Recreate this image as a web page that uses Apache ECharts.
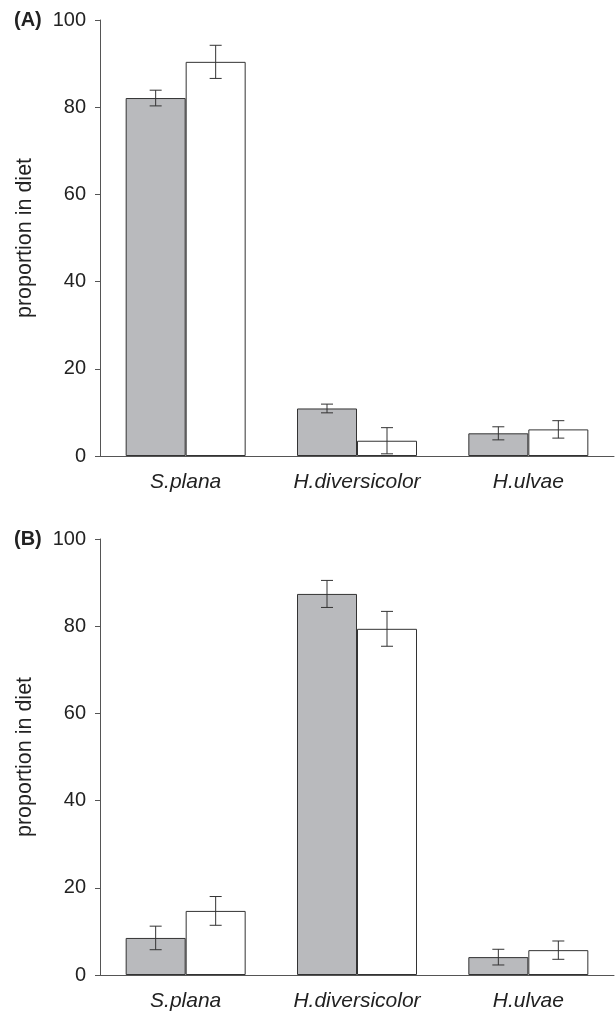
<!DOCTYPE html>
<html>
<head>
<meta charset="utf-8">
<script src="https://cdn.jsdelivr.net/npm/echarts@6/dist/echarts.min.js"></script>
<style>
html,body{margin:0;padding:0;background:#fff;}
#c{width:615px;height:1012px;}
</style>
</head>
<body>
<div id="c"></div>
<script>
const categories = ['S.plana', 'H.diversicolor', 'H.ulvae'];
const yTicks = [0, 20, 40, 60, 80, 100];
// Panel A
const aGrey = [82.1, 10.9, 5.2];
const aGreyErr = [1.8, 1.0, 1.5];
const aWhite = [90.4, 3.5, 6.1];
const aWhiteErr = [3.8, 3.0, 2.0];
// Panel B
const bGrey = [8.5, 87.4, 4.1];
const bGreyErr = [2.7, 3.1, 1.8];
const bWhite = [14.7, 79.4, 5.7];
const bWhiteErr = [3.3, 4.0, 2.1];

const BAR_W = 60;
const FONT = '"Liberation Sans", Arial, sans-serif';
const TXT = '#222';
const AX = '#555';

const chart = echarts.init(document.getElementById('c'), null, {renderer: 'canvas'});

function errSeries(gi, vals, errs, side) {
  return {
    type: 'custom',
    xAxisIndex: gi, yAxisIndex: gi,
    z: 5,
    data: vals.map((v, i) => [i, v, errs[i]]),
    encode: {x: 0, y: 1},
    renderItem: function (params, api) {
      const i = api.value(0), v = api.value(1), e = api.value(2);
      const top = api.coord([i, v + e]);
      const bot = api.coord([i, v - e]);
      const x = top[0] + side * BAR_W / 2;
      const cap = 6;
      const st = {stroke: '#333', lineWidth: 1};
      return {
        type: 'group',
        children: [
          {type: 'line', shape: {x1: x, y1: top[1], x2: x, y2: bot[1]}, style: st},
          {type: 'line', shape: {x1: x - cap, y1: top[1], x2: x + cap, y2: top[1]}, style: st},
          {type: 'line', shape: {x1: x - cap, y1: bot[1], x2: x + cap, y2: bot[1]}, style: st}
        ]
      };
    }
  };
}

function xAx(gi) {
  return {
    type: 'category', gridIndex: gi, data: categories,
    axisLine: {lineStyle: {color: AX, width: 1}},
    axisTick: {alignWithLabel: true, length: 6, lineStyle: {color: AX}},
    axisLabel: {fontFamily: FONT, fontSize: 21, fontStyle: 'italic', color: TXT, margin: 16}
  };
}
function yAx(gi) {
  return {
    type: 'value', gridIndex: gi, min: yTicks[0], max: yTicks[yTicks.length - 1], interval: 20,
    name: 'proportion in diet', nameLocation: 'middle', nameGap: 64, nameRotate: 90,
    nameTextStyle: {fontFamily: FONT, fontSize: 21.5, color: TXT},
    axisLine: {show: true, lineStyle: {color: AX, width: 1}},
    axisTick: {show: true, length: 5, lineStyle: {color: AX}},
    splitLine: {show: false},
    axisLabel: {fontFamily: FONT, fontSize: 20, color: TXT, margin: 14}
  };
}
function bar(gi, vals, color) {
  return {
    type: 'bar', xAxisIndex: gi, yAxisIndex: gi, data: vals,
    barWidth: BAR_W, barGap: '0%',
    itemStyle: {color: color, borderColor: '#333', borderWidth: 1},
    silent: true
  };
}

chart.setOption({
  animation: false,
  backgroundColor: '#fff',
  grid: [
    {left: 100, top: 20, width: 514, height: 436},
    {left: 100, top: 539, width: 514, height: 436}
  ],
  xAxis: [xAx(0), xAx(1)],
  yAxis: [yAx(0), yAx(1)],
  graphic: [
    {type: 'text', left: 14, top: 10, style: {text: '(A)', font: 'bold 20px ' + FONT, fill: TXT}},
    {type: 'text', left: 14, top: 529, style: {text: '(B)', font: 'bold 20px ' + FONT, fill: TXT}}
  ],
  series: [
    bar(0, aGrey, '#b9babd'),
    bar(0, aWhite, '#ffffff'),
    errSeries(0, aGrey, aGreyErr, -1),
    errSeries(0, aWhite, aWhiteErr, 1),
    bar(1, bGrey, '#b9babd'),
    bar(1, bWhite, '#ffffff'),
    errSeries(1, bGrey, bGreyErr, -1),
    errSeries(1, bWhite, bWhiteErr, 1)
  ]
});
</script>
</body>
</html>
